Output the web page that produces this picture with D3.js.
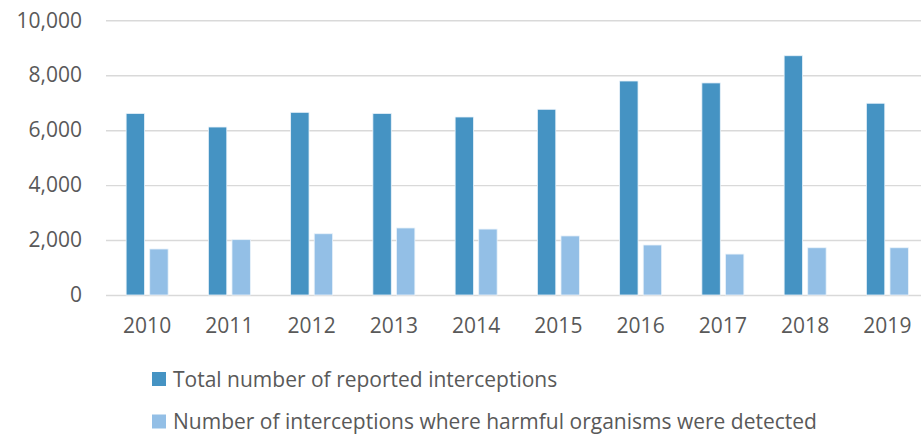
<!DOCTYPE html>
<html>
<head>
<meta charset="utf-8">
<script src="https://cdn.jsdelivr.net/npm/d3@7/dist/d3.min.js"></script>
<style>
  html, body { margin: 0; padding: 0; background: #fff; }
  svg { display: block; }
  text { font-family: "Open Sans", sans-serif; fill: #595959; }
</style>
</head>
<body>
<svg id="chart" width="921" height="435"></svg>
<script>
const years = ["2010","2011","2012","2013","2014","2015","2016","2017","2018","2019"];
const totalInterceptions = [6610, 6115, 6650, 6610, 6480, 6760, 7790, 7720, 8710, 6980];
const harmfulDetected = [1675, 2015, 2230, 2440, 2400, 2150, 1820, 1490, 1720, 1720];
const seriesNames = ["Total number of reported interceptions", "Number of interceptions where harmful organisms were detected"];
const seriesColors = ["#4593C3", "#93BFE6"];
const yTicks = [0, 2000, 4000, 6000, 8000, 10000];

const svg = d3.select("#chart");
const plot = { left: 106, right: 928.5, top: 20.3, bottom: 295 };

const x0 = d3.scaleBand().domain(years).range([plot.left, plot.right]).padding(0);
const gw = 42;
const x1 = d3.scaleBand().domain([0, 1])
  .range([x0.bandwidth() / 2 - gw / 2, x0.bandwidth() / 2 + gw / 2])
  .paddingInner(0.22).paddingOuter(0);
const y = d3.scaleLinear().domain([0, 10000]).range([plot.bottom, plot.top]);

// gridlines
const yAxis = d3.axisLeft(y).tickValues(yTicks)
  .tickSize(-(plot.right - plot.left)).tickPadding(24)
  .tickFormat(d3.format(","));
const gy = svg.append("g").attr("transform", `translate(${plot.left},0)`).call(yAxis);
gy.select(".domain").remove();
gy.selectAll(".tick line").attr("stroke", "#D9D9D9").attr("stroke-width", 1.4);
gy.selectAll(".tick text").attr("font-size", 21).attr("fill", "#595959")
  .attr("font-family", "'Open Sans', sans-serif");

// bars
const data = years.map((yr, i) => ({ year: yr, vals: [totalInterceptions[i], harmfulDetected[i]] }));
const groups = svg.append("g").selectAll("g").data(data).join("g")
  .attr("transform", d => `translate(${x0(d.year)},0)`);
groups.selectAll("rect").data(d => d.vals.map((v, k) => ({ v, k }))).join("rect")
  .attr("x", d => x1(d.k))
  .attr("width", x1.bandwidth())
  .attr("y", d => y(d.v))
  .attr("height", d => y(0) - y(d.v))
  .attr("fill", d => seriesColors[d.k])
  .attr("stroke", "#EAF3FA")
  .attr("stroke-width", 0.8);

// x axis labels
const xAxis = d3.axisBottom(x0).tickSize(0).tickPadding(23);
const gx = svg.append("g").attr("transform", `translate(0,${plot.bottom})`).call(xAxis);
gx.select(".domain").remove();
gx.selectAll(".tick text").attr("font-size", 21).attr("fill", "#595959")
  .attr("font-family", "'Open Sans', sans-serif");

// legend
const legend = svg.append("g").selectAll("g").data(seriesNames).join("g")
  .attr("transform", (d, i) => `translate(152,${372 + i * 42.5})`);
legend.append("rect").attr("width", 14).attr("height", 14)
  .attr("fill", (d, i) => seriesColors[i]);
legend.append("text").attr("x", 21).attr("y", 14.5)
  .attr("font-size", 21).text(d => d);
</script>
</body>
</html>
